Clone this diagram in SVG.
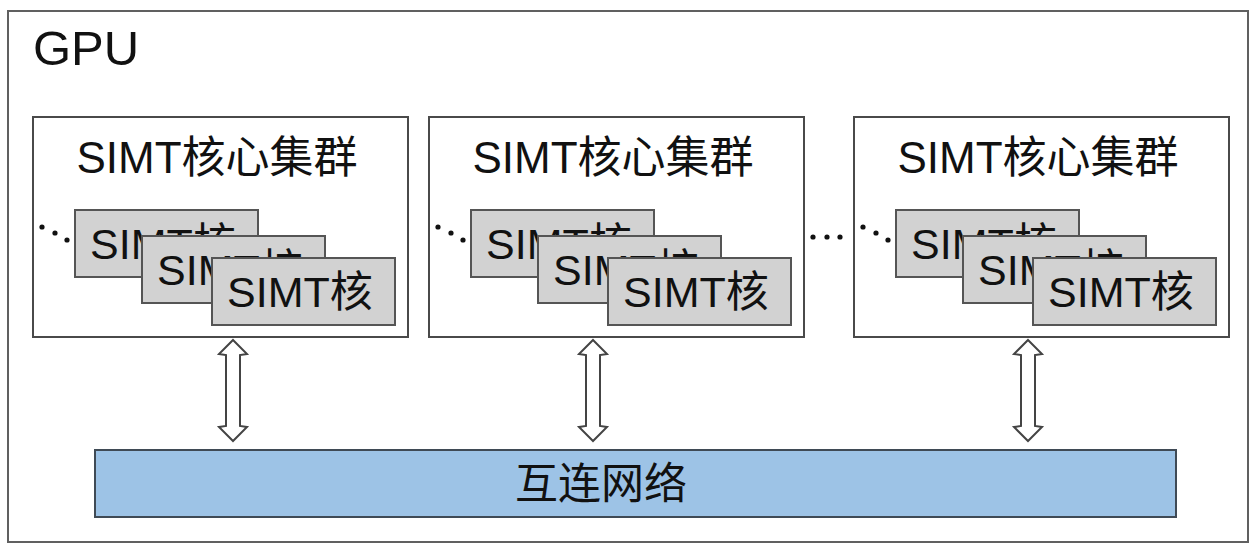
<svg xmlns="http://www.w3.org/2000/svg" width="1251" height="547" viewBox="0 0 1251 547">
<style>
.lat{font-family:"Liberation Sans","Noto Sans CJK SC",Arial,sans-serif;fill:#111}
.outer{fill:#fff;stroke:#606060;stroke-width:2}
.cluster{fill:#fff;stroke:#4a4a4a;stroke-width:2}
.core{fill:#d2d2d2;stroke:#555;stroke-width:2}
.arrow{fill:#fff;stroke:#444;stroke-width:2;stroke-linejoin:miter}
.dot{fill:#111}
.bar{fill:#9dc3e6;stroke:#3f4a55;stroke-width:2}
</style>
<rect width="1251" height="547" fill="#fff"/>
<g id="gpu">
<rect class="outer" x="8" y="11" width="1240" height="531"/>
<text class="lat" x="33" y="65" font-size="49">GPU</text>
</g>
<g id="cluster1" transform="translate(33,117)">
<rect class="cluster" x="0" y="0" width="375" height="220"/>
<text class="lat" x="184" y="56" font-size="44" text-anchor="middle">SIMT核心集群</text>
<circle class="dot" cx="9" cy="110" r="2.6"/><circle class="dot" cx="22" cy="116" r="2.6"/><circle class="dot" cx="34" cy="123" r="2.6"/>
<g id="c1core1"><rect class="core" x="42" y="93" width="183" height="67"/><text class="lat" x="57" y="142" font-size="43">SIMT核</text></g>
<g id="c1core2"><rect class="core" x="109" y="119" width="183" height="67"/><text class="lat" x="124" y="168" font-size="43">SIMT核</text></g>
<g id="c1core3"><rect class="core" x="179" y="141" width="183" height="67"/><text class="lat" x="194" y="190" font-size="43">SIMT核</text></g>
</g>
<g id="cluster2" transform="translate(429,117)">
<rect class="cluster" x="0" y="0" width="375" height="220"/>
<text class="lat" x="184" y="56" font-size="44" text-anchor="middle">SIMT核心集群</text>
<circle class="dot" cx="9" cy="110" r="2.6"/><circle class="dot" cx="22" cy="116" r="2.6"/><circle class="dot" cx="34" cy="123" r="2.6"/>
<g id="c2core1"><rect class="core" x="42" y="93" width="183" height="67"/><text class="lat" x="57" y="142" font-size="43">SIMT核</text></g>
<g id="c2core2"><rect class="core" x="109" y="119" width="183" height="67"/><text class="lat" x="124" y="168" font-size="43">SIMT核</text></g>
<g id="c2core3"><rect class="core" x="179" y="141" width="183" height="67"/><text class="lat" x="194" y="190" font-size="43">SIMT核</text></g>
</g>
<g id="ellipsis">
<circle class="dot" cx="813" cy="237" r="2.6"/><circle class="dot" cx="827" cy="237" r="2.6"/><circle class="dot" cx="840" cy="237" r="2.6"/>
</g>
<g id="cluster3" transform="translate(854,117)">
<rect class="cluster" x="0" y="0" width="375" height="220"/>
<text class="lat" x="184" y="56" font-size="44" text-anchor="middle">SIMT核心集群</text>
<circle class="dot" cx="9" cy="110" r="2.6"/><circle class="dot" cx="22" cy="116" r="2.6"/><circle class="dot" cx="34" cy="123" r="2.6"/>
<g id="c3core1"><rect class="core" x="42" y="93" width="183" height="67"/><text class="lat" x="57" y="142" font-size="43">SIMT核</text></g>
<g id="c3core2"><rect class="core" x="109" y="119" width="183" height="67"/><text class="lat" x="124" y="168" font-size="43">SIMT核</text></g>
<g id="c3core3"><rect class="core" x="179" y="141" width="183" height="67"/><text class="lat" x="194" y="190" font-size="43">SIMT核</text></g>
</g>
<g id="interconnect">
<rect class="bar" x="95" y="450" width="1081" height="67"/>
<text class="lat" x="601" y="499" font-size="43" text-anchor="middle">互连网络</text>
</g>
<defs>
<path id="dblarrow" d="M0,340 L14,354 L7,355 L7,426 L14,427 L0,441 L-14,427 L-7,426 L-7,355 L-14,354 Z"/>
</defs>
<g id="connectors">
<use href="#dblarrow" class="arrow" transform="translate(233,0)"/>
<use href="#dblarrow" class="arrow" transform="translate(593,0)"/>
<use href="#dblarrow" class="arrow" transform="translate(1028,0)"/>
</g>
</svg>
